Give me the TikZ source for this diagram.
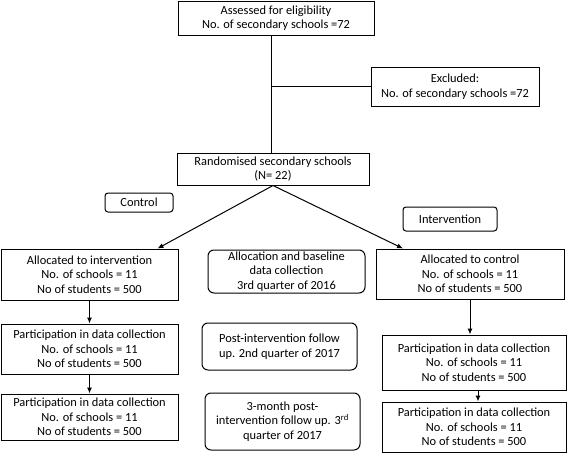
\documentclass[tikz,border=0pt]{standalone}
\usepackage{fontspec}
\setmainfont{Carlito}
\usetikzlibrary{arrows.meta}
\begin{document}
\begin{tikzpicture}[x=1pt,y=-1pt,
  font=\fontsize{12.4}{14.6}\selectfont,
  box/.style={draw,line width=1pt,align=center,inner sep=0pt},
  rbox/.style={box,rounded corners=6pt},
  arr/.style={line width=1pt,-{Latex[length=6pt,width=5pt]}},
  ln/.style={line width=1pt}]
\useasboundingbox (0,0) rectangle (568,455);
\node[box,minimum width=196pt,minimum height=34pt] (top) at (276,18) {Assessed for eligibility\\No. of secondary schools =72};
\node[box,minimum width=168pt,minimum height=39pt] (excl) at (455,86.5) {Excluded:\\No. of secondary schools =72};
\node[box,minimum width=192pt,minimum height=32pt] (rand) at (273,169) {Randomised secondary schools\\(N= 22)};
\node[rbox,rounded corners=3pt,minimum width=68pt,minimum height=19pt] (ctrl) at (139,202.5) {Control};
\node[rbox,rounded corners=3pt,minimum width=94pt,minimum height=24pt] (intv) at (450,219) {Intervention};
\node[box,minimum width=177pt,minimum height=51pt] (L1) at (89.5,274.5) {Allocated to intervention\\No. of schools = 11\\No of students = 500};
\node[box,minimum width=177pt,minimum height=50pt] (L2) at (89.5,349) {Participation in data collection\\No. of schools = 11\\No of students = 500};
\node[box,minimum width=177pt,minimum height=46pt] (L3) at (89.5,417) {Participation in data collection\\No. of schools = 11\\No of students = 500};
\node[rbox,minimum width=157pt,minimum height=43pt] (alloc) at (286.5,271.5) {Allocation and baseline\\data collection\\3rd quarter of 2016};
\node[rbox,minimum width=155pt,minimum height=47pt] (post) at (279.5,346.5) {Post-intervention follow\\up. 2nd quarter of 2017};
\node[rbox,minimum width=155pt,minimum height=57pt] (three) at (282.5,421.5) {3-month post-\\intervention follow up. 3\textsuperscript{rd}\\quarter of 2017};
\node[box,minimum width=188pt,minimum height=50pt] (R1) at (470,274) {Allocated to control\\No. of schools = 11\\No of students = 500};
\node[box,minimum width=184pt,minimum height=55pt] (R2) at (474,362.5) {Participation in data collection\\No. of schools = 11\\No of students = 500};
\node[box,minimum width=184pt,minimum height=50pt] (R3) at (474,427) {Participation in data collection\\No. of schools = 11\\No of students = 500};
\coordinate (tb) at ([xshift=-5pt]top.south);
\draw[ln] (tb) -- (tb |- rand.north);
\draw[ln] (excl.west) -- (excl.west -| tb);
\draw[arr] (rand.south) -- ([xshift=68pt]L1.north);
\draw[arr] (rand.south) -- ([xshift=-67pt]R1.north);
\draw[arr] (L1.south) -- (L2.north);
\draw[arr] (L2.south) -- (L3.north);
\draw[arr] (R1.south) -- (R1.south |- R2.north);
\draw[arr] ([xshift=4pt]R2.south) -- ([xshift=4pt]R3.north);
\end{tikzpicture}
\end{document}
